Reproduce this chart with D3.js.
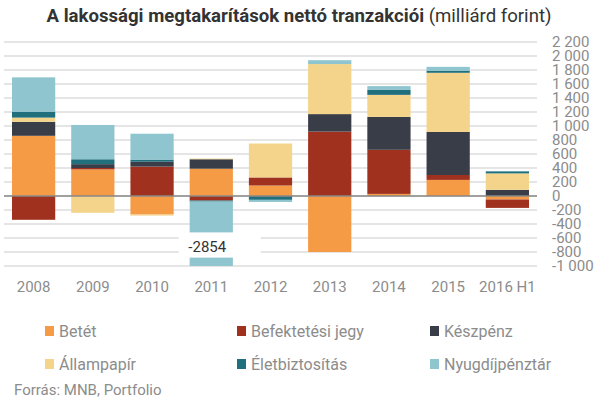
<!DOCTYPE html>
<html><head><meta charset="utf-8">
<script src="https://cdn.jsdelivr.net/npm/d3@7"></script>
<style>body{margin:0;background:#fff;} svg{display:block;font-family:Roboto,"Noto Sans",sans-serif;}</style>
</head><body><svg id="c" width="597" height="402"></svg>
<script>
const categories = ["2008","2009","2010","2011","2012","2013","2014","2015","2016 H1"];
const seriesNames = ["Betét","Befektetési jegy","Készpénz","Állampapír","Életbiztosítás","Nyugdíjpénztár"];
const betet        = [860, 380, -265, 390, 150, -800, 30, 230, -50];
const befJegy      = [-340, 20, 420, -65, 115, 920, 630, 70, -120];
const keszpenz     = [200, 55, 70, 135, -10, 250, 470, 615, 88];
const allampapir   = [60, -240, -15, 10, 485, 715, 315, 845, 235];
const eletbizt     = [85, 70, 30, -15, -45, 0, 70, 30, 30];
const nyugdij      = [490, 490, 370, -2854, -30, 55, 55, 55, 5];
const colors = ["#F59B45","#A0311F","#393D47","#F4D38A","#1F6F7C","#8FC5CF"];
const yTicks = [-1000,-800,-600,-400,-200,0,200,400,600,800,1000,1200,1400,1600,1800,2000,2200];
const yDomain = [-1000, 2200];

(function(){
const seriesValues = [betet, befJegy, keszpenz, allampapir, eletbizt, nyugdij];
const rows = categories.map((c,i)=>{const r={cat:c}; seriesNames.forEach((s,j)=>r[s]=seriesValues[j][i]); return r;});

const svg = d3.select("#c");
const pL = 4, pR = 537, pT = 42, pB = 266;
const x = d3.scaleBand().domain(categories).range([pL,pR]).paddingInner(0.27).paddingOuter(0.135);
const y = d3.scaleLinear().domain(yDomain).range([pB, pT]);

// grid
svg.append("g").selectAll("line").data(yTicks).join("line")
  .attr("x1", pL).attr("x2", pR).attr("y1", d=>y(d)).attr("y2", d=>y(d))
  .attr("stroke", "#dcdcdc").attr("stroke-width", 1.5);

// y labels
const fmt = v => { const s = Math.abs(v).toString().replace(/\B(?=(\d{3})+(?!\d))/g, " "); return (v<0?"-":"") + s; };
svg.append("g").selectAll("text").data(yTicks).join("text")
  .attr("x", 552).attr("y", d=>y(d)).attr("dy","0.35em")
  .attr("fill","#8c8c8c").attr("font-size","15px").text(fmt);

svg.append("clipPath").attr("id","plot").append("rect").attr("x",0).attr("y",pT-5).attr("width",pR).attr("height",pB-pT+5);

const stack = d3.stack().keys(seriesNames).offset(d3.stackOffsetDiverging);
const stacked = stack(rows);
const g = svg.append("g").attr("clip-path","url(#plot)");
stacked.forEach((s,j)=>{
  g.append("g").attr("fill", colors[j]).selectAll("rect").data(s).join("rect")
    .attr("x", d=>x(d.data.cat)).attr("width", x.bandwidth())
    .attr("y", d=>y(Math.max(d[0],d[1])))
    .attr("height", d=>Math.abs(y(d[0])-y(d[1])));
});

// broken bar label (2011 Nyugdíjpénztár)
const bi = categories.indexOf("2011");
const bx = x("2011") + x.bandwidth()/2;
svg.append("rect").attr("x", x("2011")-11).attr("y", y(-520)).attr("width", 82).attr("height", y(-880)-y(-520)).attr("fill","#fff");
svg.append("text").attr("x", bx-4).attr("y", y(-800)).attr("text-anchor","middle")
  .attr("fill","#333").attr("font-size","15px").text(nyugdij[bi]);

// zero line
svg.append("line").attr("x1",pL).attr("x2",pR).attr("y1",y(0)).attr("y2",y(0)).attr("stroke","#888").attr("stroke-width",1.5);

// x labels
svg.append("g").selectAll("text").data(categories).join("text")
  .attr("x", d=>x(d)+x.bandwidth()/2).attr("y", 292).attr("text-anchor","middle")
  .attr("fill","#8c8c8c").attr("font-size","15px").text(d=>d);

// title
const t = svg.append("text").attr("x", 299).attr("y", 22).attr("text-anchor","middle").attr("font-size","18.6px").attr("fill","#333");
t.append("tspan").attr("font-weight","bold").text("A lakossági megtakarítások nettó tranzakciói");
t.append("tspan").text(" (milliárd forint)");

// legend
const legX = [45, 237, 430], legY = [331, 364];
const lg = svg.append("g").selectAll("g").data(seriesNames).join("g")
  .attr("transform", (d,i)=>`translate(${legX[i%3]},${legY[Math.floor(i/3)]})`);
lg.append("rect").attr("x",0).attr("y",-5).attr("width",9).attr("height",10).attr("fill",(d,i)=>colors[i]);
lg.append("text").attr("x",14).attr("y",0).attr("dy","0.35em").attr("font-size","16px").attr("fill","#8c8c8c").text(d=>d);

svg.append("text").attr("x",14).attr("y",390).attr("dy","0.35em").attr("font-size","15px").attr("fill","#8c8c8c").text("Forrás: MNB, Portfolio");
})();
</script></body></html>
